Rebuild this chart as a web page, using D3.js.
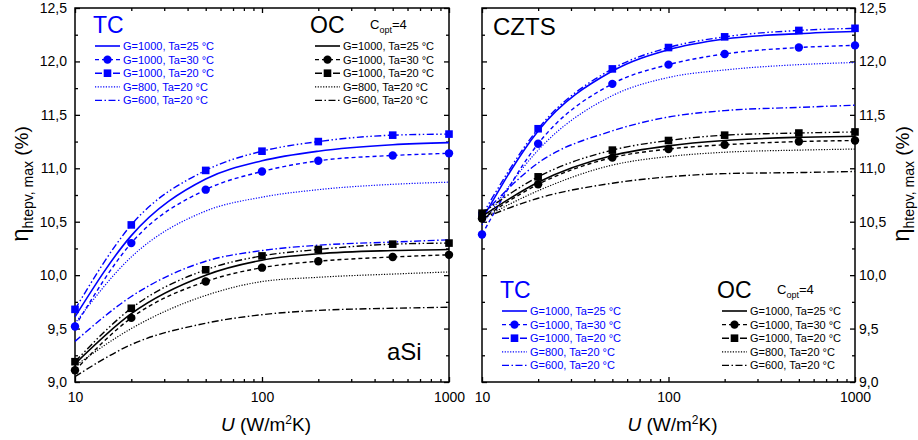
<!DOCTYPE html>
<html>
<head>
<meta charset="utf-8">
<script src="https://cdn.jsdelivr.net/npm/d3@7/dist/d3.min.js"></script>
<style>
  body { margin: 0; background: #fff; }
  svg { display: block; }
  text { font-family: "Liberation Sans", Arial, sans-serif; }
</style>
</head>
<body>
<svg id="chart" width="918" height="440"></svg>
<script>
// Heat transfer coefficient U (W/m²K)
const U = [10, 20, 50, 100, 200, 500, 1000];

// aSi, thermal coupling (TC)
const aSiTC25 = [9.61, 10.37, 10.90, 11.07, 11.16, 11.22, 11.24];
const aSiTC30 = [9.52, 10.30, 10.80, 10.97, 11.07, 11.12, 11.14];
const aSiTC20 = [9.68, 10.47, 10.98, 11.16, 11.25, 11.31, 11.32];
const aSiTC800 = [9.55, 10.17, 10.60, 10.73, 10.80, 10.85, 10.87];
const aSiTC600 = [9.38, 9.80, 10.13, 10.23, 10.28, 10.31, 10.33];
// aSi, optical coupling (OC)
const aSiOC25 = [9.17, 9.64, 10.00, 10.14, 10.20, 10.23, 10.24];
const aSiOC30 = [9.11, 9.60, 9.94, 10.07, 10.13, 10.17, 10.19];
const aSiOC20 = [9.19, 9.69, 10.05, 10.18, 10.24, 10.29, 10.30];
const aSiOC800 = [9.15, 9.50, 9.81, 9.94, 9.98, 10.01, 10.03];
const aSiOC600 = [9.05, 9.35, 9.55, 9.63, 9.67, 9.69, 9.70];

// CZTS, thermal coupling (TC)
const cztsTC25 = [10.52, 11.35, 11.91, 12.11, 12.21, 12.26, 12.28];
const cztsTC30 = [10.38, 11.23, 11.79, 11.97, 12.07, 12.13, 12.15];
const cztsTC20 = [10.56, 11.37, 11.93, 12.13, 12.23, 12.29, 12.31];
const cztsTC800 = [10.47, 11.17, 11.68, 11.85, 11.92, 11.97, 11.99];
const cztsTC600 = [10.56, 11.05, 11.35, 11.48, 11.54, 11.57, 11.59];
// CZTS, optical coupling (OC)
const cztsOC25 = [10.55, 10.87, 11.12, 11.21, 11.26, 11.29, 11.30];
const cztsOC30 = [10.53, 10.85, 11.10, 11.18, 11.22, 11.25, 11.26];
const cztsOC20 = [10.58, 10.92, 11.17, 11.26, 11.31, 11.33, 11.34];
const cztsOC800 = [10.53, 10.79, 11.03, 11.11, 11.15, 11.17, 11.18];
const cztsOC600 = [10.53, 10.72, 10.86, 10.92, 10.95, 10.96, 10.97];

const seriesLabels = ["G=1000, Ta=25 °C", "G=1000, Ta=30 °C", "G=1000, Ta=20 °C", "G=800, Ta=20 °C", "G=600, Ta=20 °C"];
const yTickValues = [9.0, 9.5, 10.0, 10.5, 11.0, 11.5, 12.0, 12.5];
const yMinorValues = [9.25, 9.75, 10.25, 10.75, 11.25, 11.75, 12.25];
const xTickValues = [10, 100, 1000];
const xMinorValues = [20, 30, 40, 50, 60, 70, 80, 90, 200, 300, 400, 500, 600, 700, 800, 900];
const materials = ["aSi", "CZTS"];

// ---- styling ----
const BLUE = "#0000ff";
const BLACK = "#000000";
const lineStyles = [
  { dash: null, width: 1.6, marker: null },
  { dash: "4,3", width: 1.4, marker: "circle" },
  { dash: "7,2.5,1.5,2.5,1.5,2.5", width: 1.4, marker: "square" },
  { dash: "1.2,1.5", width: 1.2, marker: null },
  { dash: "7,2.5,1.5,2.5", width: 1.4, marker: null }
];

const panels = [
  {
    x0: 75, x1: 449, side: "left", name: materials[0],
    nameX: 387, nameY: 360,
    tc: [aSiTC25, aSiTC30, aSiTC20, aSiTC800, aSiTC600],
    oc: [aSiOC25, aSiOC30, aSiOC20, aSiOC800, aSiOC600],
    legTop: 46, tcX: 93, ocX: 310, coptX: 370, tcSample: 95, ocSample: 315,
    titleX: 28
  },
  {
    x0: 482, x1: 855, side: "right", name: materials[1],
    nameX: 493, nameY: 35,
    tc: [cztsTC25, cztsTC30, cztsTC20, cztsTC800, cztsTC600],
    oc: [cztsOC25, cztsOC30, cztsOC20, cztsOC800, cztsOC600],
    legTop: 311, tcX: 500, ocX: 717, coptX: 777, tcSample: 502, ocSample: 722,
    titleX: 909
  }
];

const yTop = 8, yBottom = 382;
const svg = d3.select("#chart");
const fmt = v => d3.format(".1f")(v).replace(".", ",");

function styleAxis(g) {
  g.select(".domain").remove();
  g.selectAll(".tick line").attr("stroke", "#000").attr("stroke-width", 1.3);
  g.selectAll("text").attr("fill", "#000").attr("font-size", 14)
    .attr("font-family", '"Liberation Sans", Arial, sans-serif');
}

function drawMarker(g, type, cx, cy, color) {
  if (type === "circle") {
    g.append("circle").attr("cx", cx).attr("cy", cy).attr("r", 4.2).attr("fill", color);
  } else if (type === "square") {
    g.append("rect").attr("x", cx - 3.8).attr("y", cy - 3.8)
      .attr("width", 7.6).attr("height", 7.6).attr("fill", color);
  }
}

panels.forEach(p => {
  const x = d3.scaleLog().domain([10, 1000]).range([p.x0, p.x1]);
  const y = d3.scaleLinear().domain([9, 12.5]).range([yBottom, yTop]);
  const g = svg.append("g");

  // axes: major + minor ticks on all four sides, pointing inward
  const bottom = g.append("g").attr("transform", `translate(0,${yBottom})`)
    .call(d3.axisBottom(x).tickValues(xTickValues).tickFormat(d3.format("d"))
      .tickSizeInner(-5).tickSizeOuter(0).tickPadding(10));
  styleAxis(bottom);
  styleAxis(g.append("g").attr("transform", `translate(0,${yBottom})`)
    .call(d3.axisBottom(x).tickValues(xMinorValues).tickFormat("").tickSizeInner(-3).tickSizeOuter(0)));
  styleAxis(g.append("g").attr("transform", `translate(0,${yTop})`)
    .call(d3.axisTop(x).tickValues(xTickValues).tickFormat("").tickSizeInner(-5).tickSizeOuter(0)));
  styleAxis(g.append("g").attr("transform", `translate(0,${yTop})`)
    .call(d3.axisTop(x).tickValues(xMinorValues).tickFormat("").tickSizeInner(-3).tickSizeOuter(0)));

  const leftAxis = d3.axisLeft(y).tickValues(yTickValues).tickSizeInner(-5).tickSizeOuter(0);
  const rightAxis = d3.axisRight(y).tickValues(yTickValues).tickSizeInner(-5).tickSizeOuter(0);
  if (p.side === "left") {
    leftAxis.tickFormat(fmt).tickPadding(8);
    rightAxis.tickFormat("");
  } else {
    leftAxis.tickFormat("");
    rightAxis.tickFormat(fmt).tickPadding(4);
  }
  styleAxis(g.append("g").attr("transform", `translate(${p.x0},0)`).call(leftAxis));
  styleAxis(g.append("g").attr("transform", `translate(${p.x1},0)`).call(rightAxis));
  styleAxis(g.append("g").attr("transform", `translate(${p.x0},0)`)
    .call(d3.axisLeft(y).tickValues(yMinorValues).tickFormat("").tickSizeInner(-3).tickSizeOuter(0)));
  styleAxis(g.append("g").attr("transform", `translate(${p.x1},0)`)
    .call(d3.axisRight(y).tickValues(yMinorValues).tickFormat("").tickSizeInner(-3).tickSizeOuter(0)));

  // frame
  g.append("rect").attr("x", p.x0).attr("y", yTop)
    .attr("width", p.x1 - p.x0).attr("height", yBottom - yTop)
    .attr("fill", "none").attr("stroke", "#000").attr("stroke-width", 1.5);

  // curves
  const line = d3.line().x(d => x(d.u)).y(d => y(d.v)).curve(d3.curveMonotoneX);
  const groups = [{ data: p.tc, color: BLUE }, { data: p.oc, color: BLACK }];
  groups.forEach(grp => {
    grp.data.forEach((vals, i) => {
      const st = lineStyles[i];
      const pts = U.map((u, k) => ({ u, v: vals[k] }));
      g.append("path").datum(pts).attr("d", line)
        .attr("fill", "none").attr("stroke", grp.color)
        .attr("stroke-width", st.width)
        .attr("stroke-dasharray", st.dash);
      if (st.marker) {
        pts.forEach(d => drawMarker(g, st.marker, x(d.u), y(d.v), grp.color));
      }
    });
  });

  // material name
  g.append("text").attr("x", p.nameX).attr("y", p.nameY)
    .attr("font-size", 24).attr("fill", "#000").text(p.name);

  // legends
  const legHead = p.legTop - 13;
  g.append("text").attr("x", p.tcX).attr("y", legHead).attr("font-size", 23)
    .attr("fill", BLUE).text("TC");
  g.append("text").attr("x", p.ocX).attr("y", legHead).attr("font-size", 23)
    .attr("fill", BLACK).text("OC");
  const copt = g.append("text").attr("x", p.coptX).attr("y", legHead - 4)
    .attr("font-size", 13).attr("fill", BLACK);
  copt.append("tspan").text("C");
  copt.append("tspan").attr("font-size", 9).attr("dy", 4).text("opt");
  copt.append("tspan").attr("dy", -4).text("=4");

  [{ sx: p.tcSample, color: BLUE }, { sx: p.ocSample, color: BLACK }].forEach(L => {
    seriesLabels.forEach((lab, i) => {
      const st = lineStyles[i];
      const cy = p.legTop + i * 13.6;
      g.append("line").attr("x1", L.sx).attr("x2", L.sx + 25)
        .attr("y1", cy).attr("y2", cy)
        .attr("stroke", L.color).attr("stroke-width", st.width)
        .attr("stroke-dasharray", st.marker === "square" ? "7,11,7" : st.dash);
      if (st.marker) drawMarker(g, st.marker, L.sx + 12.5, cy, L.color);
      g.append("text").attr("x", L.sx + 28).attr("y", cy + 4)
        .attr("font-size", 11).attr("fill", L.color).text(lab);
    });
  });

  // x-axis title
  const xt = g.append("text").attr("x", (p.x0 + p.x1) / 2 + 4).attr("y", 431)
    .attr("text-anchor", "middle").attr("font-size", 19).attr("fill", "#000");
  xt.append("tspan").attr("font-style", "italic").text("U");
  xt.append("tspan").text(" (W/m");
  xt.append("tspan").attr("font-size", 12).attr("dy", -7).text("2");
  xt.append("tspan").attr("dy", 7).text("K)");

  // y-axis title
  const yt = g.append("text")
    .attr("transform", `translate(${p.titleX},184) rotate(-90)`)
    .attr("text-anchor", "middle").attr("fill", "#000");
  yt.append("tspan").attr("font-size", 24).text("η");
  yt.append("tspan").attr("font-size", 14).attr("dy", 5).text("htepv, max");
  yt.append("tspan").attr("font-size", 19).attr("dy", -5).text(" (%)");
});
</script>
</body>
</html>
